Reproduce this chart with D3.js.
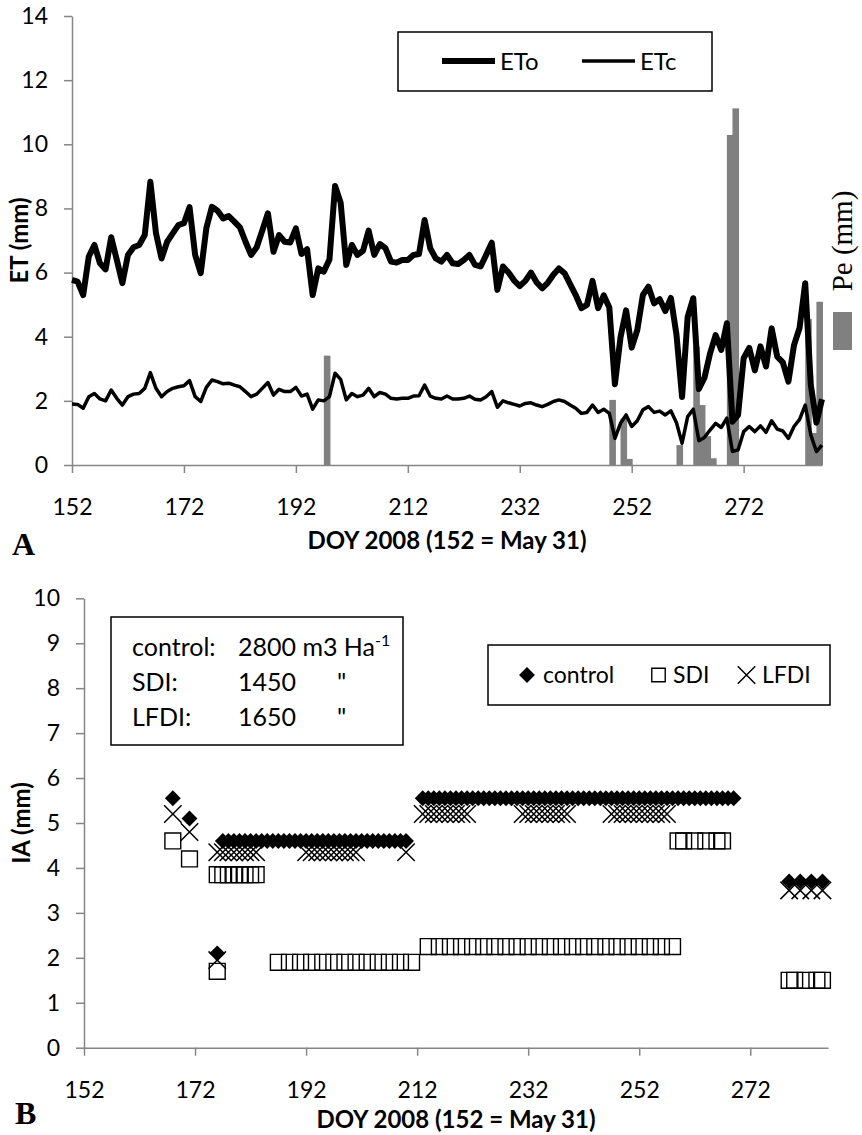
<!DOCTYPE html>
<html>
<head>
<meta charset="utf-8">
<script src="https://cdn.jsdelivr.net/npm/d3@7"></script>
<style>
  body { margin: 0; background: #fff; }
  svg { display: block; }
  text { font-family: Lato, "Open Sans", sans-serif; fill: #000; }
</style>
</head>
<body>
<script>
// ---------- panel A data (daily, DOY 152..286) ----------
const firstDay = 152;
const eto = [
  5.77, 5.72, 5.30, 6.50, 6.86, 6.29, 6.10, 7.10, 6.40, 5.67,
  6.55, 6.79, 6.86, 7.17, 8.83, 7.23, 6.44, 6.96, 7.22, 7.48,
  7.54, 8.04, 6.55, 5.98, 7.38, 8.05, 7.93, 7.69, 7.76, 7.59,
  7.41, 6.96, 6.55, 6.79, 7.31, 7.85, 6.65, 7.17, 6.96, 6.94,
  7.38, 6.58, 6.73, 5.30, 6.13, 6.03, 6.41, 8.70, 8.18, 6.24,
  6.86, 6.55, 6.68, 7.31, 6.55, 6.89, 6.76, 6.34, 6.31, 6.39,
  6.39, 6.55, 6.58, 7.64, 6.76, 6.44, 6.34, 6.55, 6.29, 6.27,
  6.39, 6.55, 6.24, 6.19, 6.55, 6.93, 5.46, 6.19, 6.00, 5.75,
  5.58, 5.74, 6.00, 5.70, 5.51, 5.68, 5.93, 6.13, 5.98, 5.64,
  5.30, 4.89, 4.99, 5.74, 4.89, 5.29, 4.91, 2.52, 3.98, 4.82,
  3.66, 4.21, 5.30, 5.56, 5.04, 5.17, 4.80, 5.21, 4.06, 2.12,
  4.62, 5.20, 2.37, 2.72, 3.48, 4.05, 3.59, 4.42, 1.35, 1.56,
  3.33, 3.65, 2.95, 3.70, 3.07, 4.26, 3.38, 3.20, 2.60, 3.74,
  4.28, 5.67, 2.50, 1.32, 2.05
];
const etc = [
  1.90, 1.89, 1.77, 2.13, 2.23, 2.06, 2.00, 2.34, 2.08, 1.87,
  2.13, 2.21, 2.23, 2.39, 2.88, 2.39, 2.13, 2.29, 2.39, 2.44,
  2.47, 2.63, 2.13, 1.98, 2.42, 2.65, 2.60, 2.53, 2.55, 2.49,
  2.44, 2.29, 2.13, 2.21, 2.39, 2.57, 2.18, 2.36, 2.29, 2.29,
  2.42, 2.15, 2.21, 1.74, 2.03, 2.00, 2.13, 2.86, 2.67, 2.03,
  2.23, 2.13, 2.18, 2.39, 2.13, 2.26, 2.21, 2.08, 2.06, 2.08,
  2.08, 2.15, 2.16, 2.49, 2.15, 2.08, 2.06, 2.15, 2.06, 2.06,
  2.08, 2.15, 2.05, 2.03, 2.13, 2.29, 1.80, 2.00, 1.94, 1.89,
  1.84, 1.92, 1.94, 1.87, 1.82, 1.89, 1.98, 2.03, 1.98, 1.87,
  1.77, 1.61, 1.64, 1.87, 1.64, 1.74, 1.61, 0.83, 1.30, 1.56,
  1.20, 1.38, 1.72, 1.82, 1.64, 1.68, 1.56, 1.69, 1.32, 0.68,
  1.51, 1.74, 0.76, 0.86, 1.09, 1.30, 1.17, 1.46, 0.42, 0.47,
  1.04, 1.20, 1.04, 1.22, 1.02, 1.38, 1.12, 1.06, 0.83, 1.20,
  1.42, 1.87, 0.94, 0.42, 0.62
];
// effective precipitation (drawn on a hidden secondary axis with the same range)
const peDays = [197, 248, 250, 251, 260, 263, 264, 265, 266, 269, 270, 283, 284, 285];
const peMm   = [3.41, 2.03, 1.45, 0.19, 0.62, 3.69, 1.87, 0.90, 0.21, 10.29, 11.12, 4.55, 1.00, 5.09];

const dayTicks = [152, 172, 192, 212, 232, 252, 272];
const etTicks = [0, 2, 4, 6, 8, 10, 12, 14];
const iaTicks = [0, 1, 2, 3, 4, 5, 6, 7, 8, 9, 10];

// ---------- panel B data: irrigation applied (mm) ----------
const controlDays = [168, 171, 176,
  177, 178, 179, 180, 181, 182, 183, 184, 185, 186, 187, 188, 189, 190, 191, 192, 193,
  194, 195, 196, 197, 198, 199, 200, 201, 202, 203, 204, 205, 206, 207, 208, 209, 210,
  213, 214, 215, 216, 217, 218, 219, 220, 221, 222, 223, 224, 225, 226, 227, 228, 229,
  230, 231, 232, 233, 234, 235, 236, 237, 238, 239, 240, 241, 242, 243, 244, 245, 246,
  247, 248, 249, 250, 251, 252, 253, 254, 255, 256, 257, 258, 259, 260, 261, 262, 263,
  264, 265, 266, 267, 268, 269,
  279, 281, 283, 285];
const controlIA = [5.55, 5.1, 2.1,
  4.6, 4.6, 4.6, 4.6, 4.6, 4.6, 4.6, 4.6, 4.6, 4.6, 4.6, 4.6, 4.6, 4.6, 4.6, 4.6, 4.6,
  4.6, 4.6, 4.6, 4.6, 4.6, 4.6, 4.6, 4.6, 4.6, 4.6, 4.6, 4.6, 4.6, 4.6, 4.6, 4.6, 4.6,
  5.55, 5.55, 5.55, 5.55, 5.55, 5.55, 5.55, 5.55, 5.55, 5.55, 5.55, 5.55, 5.55, 5.55, 5.55, 5.55, 5.55,
  5.55, 5.55, 5.55, 5.55, 5.55, 5.55, 5.55, 5.55, 5.55, 5.55, 5.55, 5.55, 5.55, 5.55, 5.55, 5.55, 5.55,
  5.55, 5.55, 5.55, 5.55, 5.55, 5.55, 5.55, 5.55, 5.55, 5.55, 5.55, 5.55, 5.55, 5.55, 5.55, 5.55, 5.55,
  5.55, 5.55, 5.55, 5.55, 5.55, 5.55,
  3.7, 3.7, 3.7, 3.7];

const sdiDays = [168, 171, 176,
  176, 177, 178, 179, 180, 181, 182, 183,
  187, 189, 191, 193, 195, 197, 199, 201, 203, 205, 207, 209, 211,
  214, 216, 218, 220, 222, 224, 226, 228, 230, 232, 234, 236, 238, 240, 242, 244, 246,
  248, 250, 252, 254, 256, 258,
  259, 260, 262, 264, 266, 267,
  279, 280, 282, 284, 285];
const sdiIA = [4.6, 4.2, 1.7,
  3.85, 3.85, 3.85, 3.85, 3.85, 3.85, 3.85, 3.85,
  1.9, 1.9, 1.9, 1.9, 1.9, 1.9, 1.9, 1.9, 1.9, 1.9, 1.9, 1.9, 1.9,
  2.25, 2.25, 2.25, 2.25, 2.25, 2.25, 2.25, 2.25, 2.25, 2.25, 2.25, 2.25, 2.25, 2.25, 2.25, 2.25, 2.25,
  2.25, 2.25, 2.25, 2.25, 2.25, 2.25,
  4.6, 4.6, 4.6, 4.6, 4.6, 4.6,
  1.5, 1.5, 1.5, 1.5, 1.5];

const lfdiDays = [168, 171, 176,
  176, 177, 178, 179, 180, 181, 182, 183,
  192, 193, 194, 195, 196, 197, 198, 199, 200, 201, 210,
  213, 214, 215, 216, 217, 218, 219, 220, 221,
  231, 232, 233, 234, 235, 236, 237, 238, 239,
  247, 248, 249, 250, 251, 252, 253, 254, 255, 256, 257,
  279, 281, 283, 285];
const lfdiIA = [5.2, 4.8, 1.95,
  4.35, 4.35, 4.35, 4.35, 4.35, 4.35, 4.35, 4.35,
  4.35, 4.35, 4.35, 4.35, 4.35, 4.35, 4.35, 4.35, 4.35, 4.35, 4.35,
  5.2, 5.2, 5.2, 5.2, 5.2, 5.2, 5.2, 5.2, 5.2,
  5.2, 5.2, 5.2, 5.2, 5.2, 5.2, 5.2, 5.2, 5.2,
  5.2, 5.2, 5.2, 5.2, 5.2, 5.2, 5.2, 5.2, 5.2, 5.2, 5.2,
  3.5, 3.5, 3.5, 3.5];

// ---------- layout ----------
const width = 862, height = 1135;
const axisColor = "#868686";
const tickFont = 23;

const svg = d3.select("body").append("svg")
  .attr("width", width)
  .attr("height", height)
  .attr("viewBox", [0, 0, width, height]);

function styleAxis(g) {
  g.select(".domain").attr("stroke", axisColor).attr("stroke-width", 1.5);
  g.selectAll(".tick line").attr("stroke", axisColor).attr("stroke-width", 1.5);
  g.selectAll(".tick text")
    .attr("fill", "#000")
    .style("font-size", tickFont + "px")
    .style("font-family", "Lato, sans-serif");
}

/******************** Panel A ********************/
const xA = d3.scaleLinear().domain([152, 286]).range([72, 822]);
const yA = d3.scaleLinear().domain([0, 14]).range([465, 16]);
const dayW = xA(153) - xA(152);

const etoPts = eto.map((v, i) => [firstDay + i, v]);
const etcPts = etc.map((v, i) => [firstDay + i, v]);
const pePts = peDays.map((d, i) => ({ day: d, v: peMm[i] }));

const gA = svg.append("g");

gA.append("g")
  .attr("transform", `translate(${xA.range()[0]},0)`)
  .call(d3.axisLeft(yA).tickValues(etTicks).tickSize(8).tickSizeOuter(0).tickPadding(16))
  .call(styleAxis);

gA.append("g")
  .attr("transform", `translate(0,${yA(0)})`)
  .call(d3.axisBottom(xA).tickValues(dayTicks).tickFormat(d3.format("d"))
    .tickSize(8).tickSizeOuter(0).tickPadding(26))
  .call(styleAxis);

// precipitation bars
gA.append("g")
  .attr("fill", "#808080")
  .selectAll("rect")
  .data(pePts)
  .join("rect")
  .attr("x", (d) => xA(d.day))
  .attr("width", dayW + 1)
  .attr("y", (d) => yA(d.v))
  .attr("height", (d) => yA(0) - yA(d.v));

const lineA = d3.line().x((d) => xA(d[0])).y((d) => yA(d[1]));

gA.append("path")
  .datum(etcPts)
  .attr("fill", "none")
  .attr("stroke", "#000")
  .attr("stroke-width", 3.5)
  .attr("stroke-linejoin", "round")
  .attr("d", lineA);

gA.append("path")
  .datum(etoPts)
  .attr("fill", "none")
  .attr("stroke", "#000")
  .attr("stroke-width", 6)
  .attr("stroke-linejoin", "round")
  .attr("d", lineA);

// legend ETo / ETc
const legA = gA.append("g");
legA.append("rect")
  .attr("x", 398).attr("y", 32).attr("width", 314).attr("height", 59)
  .attr("fill", "#fff").attr("stroke", "#000").attr("stroke-width", 1.5);
legA.append("line").attr("x1", 442).attr("x2", 495).attr("y1", 61).attr("y2", 61)
  .attr("stroke", "#000").attr("stroke-width", 6);
legA.append("text").attr("x", 500).attr("y", 70).style("font-size", "24px").text("ETo");
legA.append("line").attr("x1", 582).attr("x2", 635).attr("y1", 61).attr("y2", 61)
  .attr("stroke", "#000").attr("stroke-width", 3.5);
legA.append("text").attr("x", 640).attr("y", 70).style("font-size", "24px").text("ETc");

// Pe legend (right side)
gA.append("rect").attr("x", 833).attr("y", 312).attr("width", 19).attr("height", 38).attr("fill", "#808080");
gA.append("text")
  .attr("transform", "translate(852,241) rotate(-90)")
  .attr("text-anchor", "middle")
  .style("font-family", "'Liberation Serif', 'DejaVu Serif', serif")
  .style("font-size", "29px")
  .text("Pe (mm)");

// titles
gA.append("text")
  .attr("transform", `translate(28,${(yA(0) + yA(14)) / 2}) rotate(-90)`)
  .attr("text-anchor", "middle")
  .style("font-size", "24px").style("font-weight", "bold")
  .text("ET (mm)");
gA.append("text")
  .attr("x", (xA.range()[0] + xA.range()[1]) / 2).attr("y", 549)
  .attr("text-anchor", "middle")
  .style("font-size", "24px").style("font-weight", "bold")
  .text("DOY 2008 (152 = May 31)");
gA.append("text")
  .attr("x", 12).attr("y", 555)
  .style("font-family", "'Liberation Serif', 'DejaVu Serif', serif")
  .style("font-size", "32px").style("font-weight", "bold")
  .text("A");

/******************** Panel B ********************/
const xB = d3.scaleLinear().domain([152, 286]).range([84, 828]);
const yB = d3.scaleLinear().domain([0, 10]).range([1047.7, 598.3]);

const gB = svg.append("g");

gB.append("g")
  .attr("transform", `translate(${xB.range()[0]},0)`)
  .call(d3.axisLeft(yB).tickValues(iaTicks).tickSize(8).tickSizeOuter(0).tickPadding(16))
  .call(styleAxis);

gB.append("g")
  .attr("transform", `translate(0,${yB(0)})`)
  .call(d3.axisBottom(xB).tickValues(dayTicks).tickFormat(d3.format("d"))
    .tickSize(8).tickSizeOuter(0).tickPadding(26))
  .call(styleAxis);

const diamond = d3.symbol().type(d3.symbolDiamond2).size(160)();
const square = d3.symbol().type(d3.symbolSquare2).size(320)();
const cross = d3.symbol().type(d3.symbolX).size(200)();

const ptsOf = (days, vals) => days.map((d, i) => ({ day: d, v: vals[i] }));

gB.append("g")
  .selectAll("path")
  .data(ptsOf(controlDays, controlIA))
  .join("path")
  .attr("transform", (d) => `translate(${xB(d.day)},${yB(d.v)})`)
  .attr("d", diamond)
  .attr("fill", "#000");

gB.append("g")
  .selectAll("path")
  .data(ptsOf(sdiDays, sdiIA))
  .join("path")
  .attr("transform", (d) => `translate(${xB(d.day)},${yB(d.v)})`)
  .attr("d", square)
  .attr("fill", "none")
  .attr("stroke", "#000")
  .attr("stroke-width", 1.4);

gB.append("g")
  .selectAll("path")
  .data(ptsOf(lfdiDays, lfdiIA))
  .join("path")
  .attr("transform", (d) => `translate(${xB(d.day)},${yB(d.v)})`)
  .attr("d", cross)
  .attr("fill", "none")
  .attr("stroke", "#000")
  .attr("stroke-width", 1.5);

// application totals box
const boxB = gB.append("g");
boxB.append("rect")
  .attr("x", 111).attr("y", 617).attr("width", 292).attr("height", 128)
  .attr("fill", "#fff").attr("stroke", "#000").attr("stroke-width", 1.5);
const totals = [
  ["control:", "2800 m3 Ha", "-1"],
  ["SDI:", "1450", "\""],
  ["LFDI:", "1650", "\""]
];
totals.forEach((row, i) => {
  const yy = 656 + i * 35;
  boxB.append("text").attr("x", 132).attr("y", yy).style("font-size", "25px").text(row[0]);
  const t = boxB.append("text").attr("x", 238).attr("y", yy).style("font-size", "25px").text(row[1]);
  if (i === 0) {
    t.append("tspan").attr("dy", -10).style("font-size", "16px").text(row[2]);
  } else {
    boxB.append("text").attr("x", 337).attr("y", yy).style("font-size", "25px").text(row[2]);
  }
});

// legend control / SDI / LFDI
const legB = gB.append("g");
legB.append("rect")
  .attr("x", 488).attr("y", 645).attr("width", 342).attr("height", 60)
  .attr("fill", "#fff").attr("stroke", "#000").attr("stroke-width", 1.5);
legB.append("path").attr("transform", "translate(527,675)").attr("d", diamond).attr("fill", "#000");
legB.append("text").attr("x", 543).attr("y", 683).style("font-size", "23px").text("control");
legB.append("path").attr("transform", "translate(658.5,675)").attr("d", d3.symbol().type(d3.symbolSquare2).size(230)())
  .attr("fill", "none").attr("stroke", "#000").attr("stroke-width", 1.4);
legB.append("text").attr("x", 673).attr("y", 683).style("font-size", "23px").text("SDI");
legB.append("path").attr("transform", "translate(746.5,675)").attr("d", cross)
  .attr("fill", "none").attr("stroke", "#000").attr("stroke-width", 1.5);
legB.append("text").attr("x", 762).attr("y", 683).style("font-size", "23px").text("LFDI");

// titles
gB.append("text")
  .attr("transform", `translate(30,${(yB(0) + yB(10)) / 2}) rotate(-90)`)
  .attr("text-anchor", "middle")
  .style("font-size", "24px").style("font-weight", "bold")
  .text("IA (mm)");
gB.append("text")
  .attr("x", (xB.range()[0] + xB.range()[1]) / 2).attr("y", 1128)
  .attr("text-anchor", "middle")
  .style("font-size", "24px").style("font-weight", "bold")
  .text("DOY 2008 (152 = May 31)");
gB.append("text")
  .attr("x", 15).attr("y", 1124)
  .style("font-family", "'Liberation Serif', 'DejaVu Serif', serif")
  .style("font-size", "32px").style("font-weight", "bold")
  .text("B");
</script>
</body>
</html>
